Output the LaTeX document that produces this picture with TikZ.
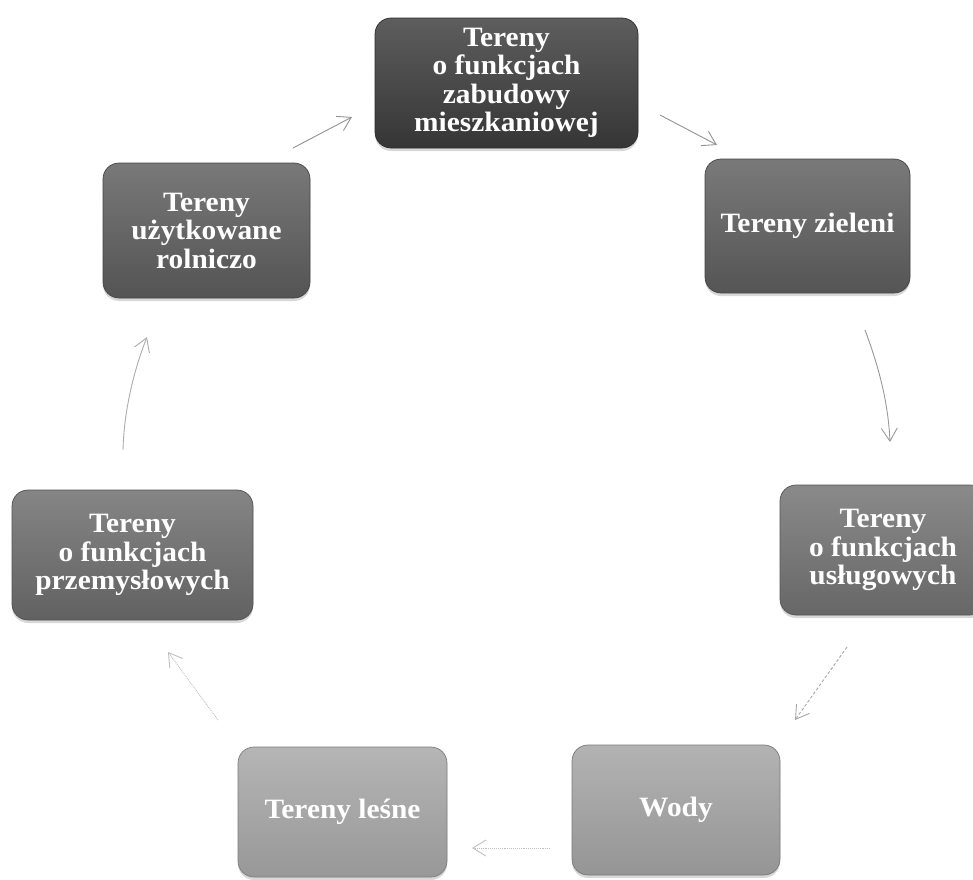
\documentclass[tikz,border=0pt]{standalone}
\usepackage{fontspec}
\setmainfont{Liberation Serif}[FakeStretch=1.05]
\usetikzlibrary{arrows.meta,shadows}
\definecolor{cA}{HTML}{3A3A3A}
\definecolor{cB}{HTML}{5C5C5C}
\definecolor{cC}{HTML}{707070}
\definecolor{cD}{HTML}{A2A2A2}
\definecolor{cE}{HTML}{A5A5A5}
\definecolor{cF}{HTML}{6A6A6A}
\definecolor{cG}{HTML}{5B5B5B}
\tikzset{
  box/.style={rounded corners=16pt, draw=#1!75!black, line width=0.7pt,
    top color=#1!82!white, middle color=#1, bottom color=#1!92!black,
    shading angle=0,
    drop shadow={opacity=0.3, shadow xshift=0pt, shadow yshift=-3pt},
    text=white, font=\bfseries\fontsize{28}{28.5}\selectfont,
    align=center, inner sep=0pt, minimum height=130pt},
  conn/.style={line width=0.9pt, draw=#1,
    -{Straight Barb[length=13pt,width=16pt,line width=0.9pt]}},
}
\begin{document}
\begin{tikzpicture}[x=1pt,y=-1pt]
\useasboundingbox (0,0) rectangle (973,879);
\fill[white] (0,0) rectangle (973,879);
\clip (0,0) rectangle (973,879);
% nodes
\node[box=cA, minimum width=263pt] (n1) at (506.5,83) {Tereny\\o funkcjach\\zabudowy\\mieszkaniowej};
\node[box=cB, minimum width=205pt, minimum height=134pt] (n2) at (807.5,226) {Tereny zieleni};
\node[box=cC, minimum width=206pt] (n3) at (883,550) {Tereny\\o funkcjach\\usługowych};
\node[box=cD, minimum width=208pt] (n4) at (676,810) {Wody};
\node[box=cE, minimum width=209pt] (n5) at (342.5,812) {Tereny leśne};
\node[box=cF, minimum width=241pt] (n6) at (132.5,555) {Tereny\\o funkcjach\\przemysłowych};
\node[box=cG, minimum width=207pt, minimum height=135pt] (n7) at (206.5,230.5) {Tereny\\użytkowane\\rolniczo};
% connector end points
\coordinate (a1s) at (293,148); \coordinate (a1e) at (352,117);
\coordinate (a2s) at (660,115); \coordinate (a2e) at (717,145);
\coordinate (a3s) at (865,330); \coordinate (a3e) at (890,442);
\coordinate (a4s) at (847,647); \coordinate (a4e) at (795,720);
\coordinate (a5s) at (550,848); \coordinate (a5e) at (472,848);
\coordinate (a6s) at (218,720); \coordinate (a6e) at (168,652);
\coordinate (a7s) at (123,450); \coordinate (a7e) at (147,337);
% connectors
\draw[conn=gray!85] (a1s) -- (a1e);
\draw[conn=gray!85] (a2s) -- (a2e);
\draw[conn=gray!80] (a3s) .. controls (878,365) and (888,400) .. (a3e);
\draw[conn=gray!70, densely dashed] (a4s) -- (a4e);
\draw[conn=gray!50, densely dotted] (a5s) -- (a5e);
\draw[conn=gray!50, densely dotted] (a6s) -- (a6e);
\draw[conn=gray!65] (a7s) .. controls (124,410) and (134,370) .. (a7e);
\end{tikzpicture}
\end{document}
